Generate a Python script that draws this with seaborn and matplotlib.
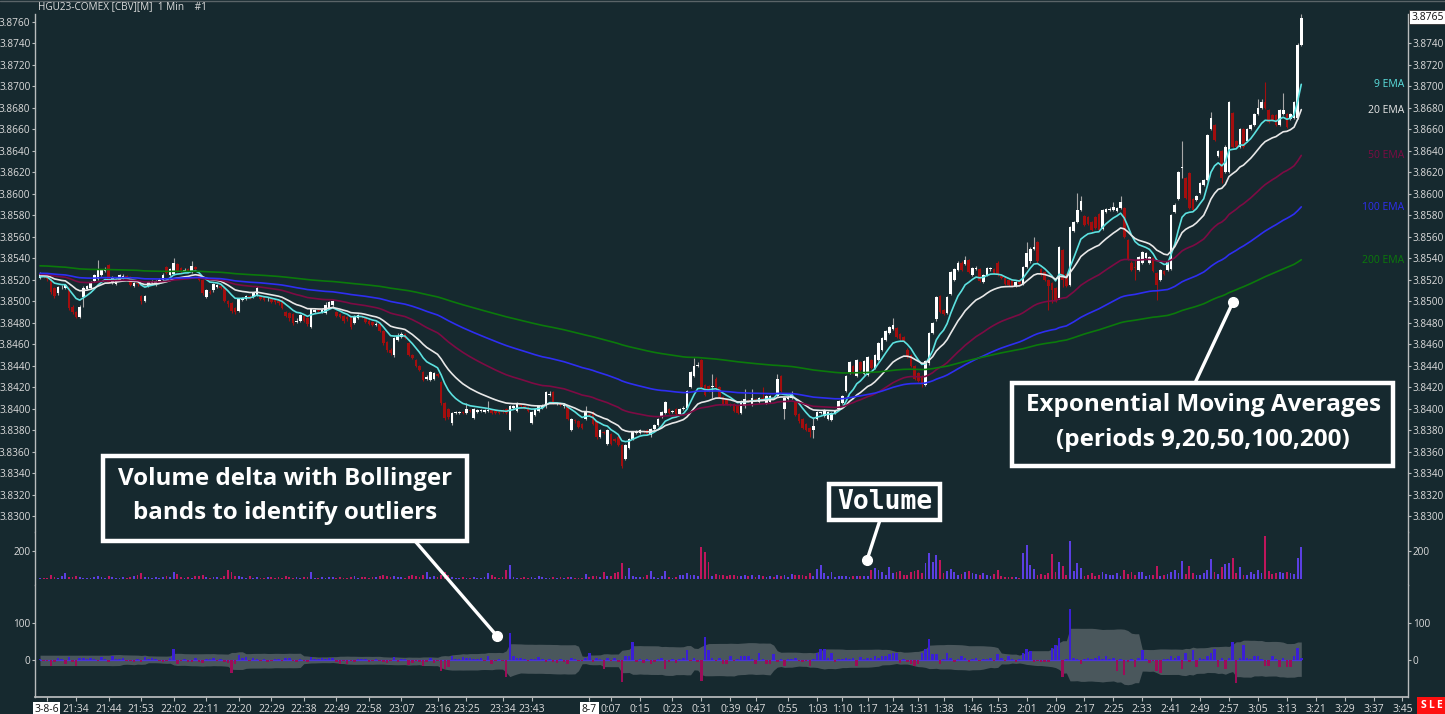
import numpy as np
import pandas as pd
import matplotlib
matplotlib.use("Agg")
import matplotlib.pyplot as plt
import seaborn as sns
from matplotlib.lines import Line2D
from matplotlib.patches import Rectangle
import matplotlib.transforms as mtrans

# ---------------- data (prices in units of 0.0001 above 3.8000) ----------------
opens = [
    522, 525, 524, 520, 512, 508, 513, 512, 512, 495,
    490, 485, 504, 511, 512, 519, 521, 524, 528, 534,
    518, 516, 520, 522, 523, 522, 514, 517, 505, 500,
    514, 517, 515, 518, 520, 532, 524, 525, 535, 531,
    528, 530, 527, 532, 525, 520, 504, 509, 510, 513,
    514, 512, 500, 498, 494, 491, 501, 502, 505, 504,
    506, 505, 504, 502, 502, 501, 500, 501, 490, 489,
    488, 481, 482, 486, 484, 476, 490, 492, 490, 489,
    494, 496, 490, 488, 486, 485, 485, 480, 484, 486,
    484, 482, 481, 478, 479, 472, 462, 455, 450, 464,
    467, 469, 461, 450, 445, 440, 434, 428, 427, 428,
    432, 425, 405, 400, 387, 396, 396, 397, 396, 399,
    391, 397, 398, 397, 398, 399, 398, 397, 399, 400,
    380, 401, 398, 403, 402, 401, 387, 394, 398, 401,
    402, 413, 415, 404, 405, 402, 402, 380, 389, 388,
    386, 390, 395, 397, 388, 374, 378, 367, 376, 372,
    374, 366, 353, 363, 372, 377, 377, 379, 380, 375,
    381, 385, 392, 396, 400, 397, 400, 395, 400, 401,
    420, 430, 440, 445, 422, 421, 420, 428, 420, 411,
    408, 404, 404, 402, 396, 402, 408, 403, 409, 406,
    410, 405, 406, 411, 412, 430, 400, 409, 410, 406,
    395, 390, 386, 382, 380, 390, 396, 393, 390, 389,
    396, 400, 405, 416, 433, 440, 430, 443, 432, 431,
    445, 438, 445, 455, 464, 470, 474, 475, 469, 467,
    455, 450, 440, 433, 430, 422, 442, 470, 483, 505,
    492, 489, 507, 520, 529, 536, 535, 538, 524, 530,
    530, 518, 524, 530, 530, 536, 523, 522, 520, 520,
    514, 520, 516, 532, 537, 549, 555, 530, 527, 520,
    517, 512, 503, 548, 525, 515, 565, 574, 585, 579,
    578, 574, 578, 581, 567, 583, 585, 585, 584, 587,
    587, 557, 536, 532, 529, 536, 540, 536, 540,
    526, 520, 528, 529, 530, 583, 595, 624, 615, 619, 595,
    594, 601, 608, 613, 660, 664, 635, 640, 620, 620,
    675, 649, 644, 660, 649, 660, 664, 674, 680, 685,
    678, 673, 673, 664, 674, 674, 670, 671, 671, 739,
]
closes = [
    525, 524, 521, 509, 505, 513, 513, 515, 494, 490,
    485, 495, 512, 514, 518, 524, 530, 529, 530, 518,
    522, 521, 524, 523, 522, 515, 517, 516, 500, 505,
    518, 518, 519, 520, 524, 526, 530, 536, 528, 527,
    529, 527, 533, 530, 520, 508, 510, 508, 516, 515,
    512, 500, 497, 491, 490, 502, 503, 505, 503, 508,
    512, 502, 501, 502, 499, 499, 498, 494, 486, 484,
    480, 482, 487, 482, 479, 493, 492, 491, 492, 496,
    499, 500, 486, 485, 482, 483, 476, 486, 487, 485,
    481, 479, 478, 479, 472, 461, 455, 452, 466, 468,
    469, 466, 450, 447, 440, 436, 427, 429, 434, 433,
    430, 405, 391, 392, 396, 396, 397, 396, 400, 398,
    400, 399, 399, 399, 398, 396, 396, 396, 397, 396,
    402, 402, 405, 402, 401, 398, 397, 400, 402, 402,
    415, 414, 405, 405, 403, 403, 390, 390, 388, 383,
    382, 397, 394, 386, 374, 380, 377, 380, 367, 370,
    366, 347, 366, 372, 378, 379, 380, 378, 376, 381,
    385, 390, 397, 406, 396, 398, 395, 400, 401, 416,
    434, 440, 441, 420, 413, 416, 421, 420, 411, 404,
    404, 403, 398, 396, 407, 409, 407, 410, 408, 410,
    409, 412, 412, 410, 428, 416, 410, 411, 414, 394,
    388, 382, 380, 378, 384, 397, 396, 399, 397, 396,
    398, 407, 412, 430, 443, 433, 445, 436, 444, 448,
    438, 450, 461, 466, 472, 476, 478, 467, 465, 463,
    448, 440, 428, 426, 424, 444, 470, 480, 504, 490,
    488, 504, 527, 530, 536, 529, 538, 527, 531, 531,
    519, 524, 531, 530, 526, 524, 522, 516, 515, 514,
    518, 516, 532, 545, 549, 550, 537, 524, 520, 514,
    510, 500, 550, 520, 514, 569, 574, 585, 593, 571,
    572, 566, 568, 566, 585, 586, 586, 588, 587, 592,
    560, 539, 529, 531, 541, 546, 545, 541, 528,
    515, 529, 525, 537, 580, 590, 620, 625, 596, 587, 585,
    598, 610, 613, 655, 671, 650, 640, 615, 644, 685,
    644, 644, 660, 644, 660, 664, 674, 680, 685, 680,
    667, 669, 664, 678, 678, 662, 674, 685, 739, 764,
]
highs = [
    527, 526, 525, 521, 513, 514, 515, 516, 513, 496,
    491, 496, 514, 515, 519, 525, 538, 530, 532, 535,
    523, 522, 525, 525, 524, 523, 518, 518, 506, 506,
    519, 520, 520, 522, 526, 533, 531, 540, 536, 532,
    531, 531, 537, 533, 526, 521, 511, 510, 517, 516,
    515, 513, 501, 499, 495, 503, 504, 506, 506, 509,
    514, 506, 505, 504, 503, 502, 501, 502, 491, 490,
    489, 484, 488, 487, 485, 494, 493, 493, 494, 499,
    500, 501, 491, 489, 487, 486, 486, 487, 488, 487,
    485, 483, 482, 481, 480, 473, 463, 456, 467, 470,
    471, 470, 462, 451, 446, 441, 435, 431, 435, 434,
    433, 426, 406, 401, 397, 398, 398, 398, 405, 400,
    401, 400, 400, 400, 407, 400, 399, 398, 400, 401,
    403, 403, 406, 404, 403, 402, 398, 401, 403, 404,
    416, 416, 416, 406, 406, 404, 403, 391, 390, 389,
    387, 402, 396, 398, 389, 381, 379, 381, 377, 373,
    375, 367, 367, 373, 379, 380, 381, 380, 381, 382,
    386, 391, 398, 407, 401, 399, 401, 401, 402, 417,
    435, 447, 443, 446, 423, 422, 432, 429, 421, 412,
    409, 405, 405, 403, 408, 418, 409, 418, 410, 411,
    420, 413, 413, 412, 432, 431, 411, 412, 416, 407,
    396, 391, 387, 383, 392, 398, 397, 400, 398, 397,
    399, 408, 413, 431, 444, 441, 446, 444, 445, 449,
    446, 451, 462, 467, 473, 477, 484, 476, 470, 468,
    456, 451, 441, 434, 431, 445, 471, 481, 505, 506,
    493, 505, 528, 531, 537, 537, 542, 539, 532, 533,
    531, 525, 532, 532, 531, 537, 524, 523, 521, 521,
    519, 521, 533, 555, 550, 560, 556, 531, 528, 521,
    518, 513, 551, 549, 526, 570, 575, 601, 598, 580,
    579, 575, 579, 582, 586, 587, 588, 592, 588, 598,
    588, 558, 537, 538, 542, 547, 546, 542, 541,
    527, 530, 529, 538, 581, 591, 621, 649, 616, 620, 596,
    599, 611, 614, 656, 676, 665, 641, 641, 645, 686,
    676, 650, 661, 661, 661, 665, 675, 688, 688, 704,
    679, 674, 674, 679, 694, 675, 675, 686, 740, 767,
]
lows = [
    521, 522, 519, 507, 503, 506, 511, 511, 492, 488,
    484, 484, 495, 510, 511, 518, 520, 523, 527, 517,
    516, 515, 519, 521, 521, 514, 513, 514, 497, 499,
    513, 516, 514, 517, 519, 525, 523, 524, 527, 526,
    527, 526, 526, 529, 519, 506, 503, 507, 509, 512,
    511, 499, 495, 489, 488, 490, 500, 501, 502, 503,
    505, 501, 500, 500, 498, 497, 496, 493, 485, 482,
    478, 480, 481, 481, 477, 475, 489, 490, 489, 488,
    493, 495, 485, 484, 480, 482, 474, 479, 483, 484,
    480, 478, 477, 477, 471, 459, 453, 450, 448, 463,
    466, 465, 449, 446, 439, 435, 426, 427, 426, 427,
    429, 403, 389, 390, 385, 395, 395, 395, 395, 397,
    390, 396, 397, 396, 397, 395, 395, 395, 396, 395,
    379, 400, 397, 401, 400, 397, 386, 393, 397, 400,
    401, 412, 404, 403, 402, 401, 389, 379, 387, 382,
    381, 389, 393, 385, 372, 373, 376, 366, 366, 369,
    365, 345, 352, 362, 371, 376, 376, 377, 375, 374,
    380, 384, 391, 395, 395, 396, 394, 394, 399, 400,
    419, 429, 439, 418, 412, 415, 410, 419, 410, 403,
    403, 402, 397, 395, 395, 401, 406, 402, 407, 405,
    408, 404, 405, 409, 411, 415, 390, 408, 409, 393,
    387, 381, 379, 374, 373, 389, 395, 392, 389, 388,
    395, 399, 404, 415, 432, 432, 429, 435, 431, 430,
    437, 437, 444, 454, 463, 469, 473, 466, 463, 462,
    447, 439, 427, 425, 420, 421, 441, 469, 482, 489,
    487, 488, 506, 519, 528, 528, 534, 526, 523, 529,
    518, 517, 523, 528, 525, 523, 521, 515, 514, 513,
    513, 515, 515, 531, 536, 548, 536, 523, 519, 492,
    498, 499, 502, 513, 513, 514, 564, 573, 584, 570,
    571, 565, 567, 565, 566, 582, 584, 584, 583, 586,
    559, 538, 528, 520, 528, 535, 539, 535, 527,
    501, 519, 524, 528, 529, 582, 594, 615, 595, 586, 584,
    593, 600, 607, 612, 659, 649, 634, 610, 619, 619,
    643, 643, 643, 643, 648, 659, 663, 673, 679, 679,
    666, 668, 663, 663, 673, 661, 669, 670, 670, 738,
]
volume = [
    6, 8, 5, 24, 10, 6, 18, 38, 14, 12,
    16, 12, 8, 6, 8, 10, 19, 14, 6, 20,
    10, 8, 6, 10, 6, 12, 16, 30, 40, 14,
    10, 8, 12, 8, 10, 16, 14, 50, 32, 12,
    8, 10, 6, 20, 16, 28, 14, 8, 12, 10,
    6, 18, 62, 48, 16, 20, 10, 6, 22, 8,
    10, 6, 8, 12, 14, 8, 10, 6, 16, 10,
    8, 12, 6, 10, 14, 48, 8, 6, 10, 8,
    10, 12, 8, 14, 6, 8, 10, 16, 6, 12,
    10, 8, 14, 12, 18, 24, 16, 10, 22, 14,
    10, 8, 20, 24, 16, 12, 26, 48, 14, 20,
    10, 30, 50, 24, 14, 6, 8, 10, 6, 8,
    10, 6, 8, 12, 38, 26, 12, 8, 10, 62,
    98, 10, 8, 6, 12, 8, 10, 6, 16, 10,
    8, 6, 10, 8, 12, 6, 14, 10, 8, 6,
    8, 33, 14, 20, 16, 12, 48, 22, 18, 40,
    48, 110, 20, 74, 20, 10, 14, 12, 30, 52,
    12, 8, 16, 52, 14, 8, 12, 30, 24, 43,
    30, 28, 20, 224, 193, 121, 20, 36, 24, 30,
    20, 26, 30, 16, 22, 28, 20, 24, 14, 30,
    18, 10, 16, 12, 30, 20, 24, 14, 33, 30,
    24, 30, 20, 43, 16, 71, 98, 40, 20, 48,
    14, 16, 20, 18, 14, 22, 16, 20, 18, 22,
    60, 74, 62, 50, 24, 81, 40, 48, 52, 30,
    26, 48, 54, 60, 40, 110, 186, 120, 171, 133,
    43, 52, 71, 50, 30, 36, 48, 52, 40, 36,
    30, 40, 30, 20, 36, 62, 20, 14, 10, 14,
    12, 8, 181, 240, 98, 67, 24, 36, 30, 43,
    176, 48, 121, 90, 30, 269, 52, 110, 74, 20,
    26, 38, 20, 28, 48, 34, 30, 24, 40, 20,
    60, 36, 50, 30, 48, 46, 20, 24, 30, 90,
    20, 24, 36, 50, 60, 40, 129, 36, 90, 40,
    30, 24, 40, 60, 138, 48, 36, 81, 105, 110,
    145, 40, 81, 30, 24, 50, 36, 60, 40, 305,
    57, 36, 44, 48, 40, 50, 44, 36, 148, 229,
]
delta = [
    2, -3, -2, -16, -6, 4, 3, -10, 8, -5,
    -16, 5, 6, 3, 4, 2, -3, 8, 2, -6,
    10, 2, 3, 5, -2, -4, -6, 3, -5, 8,
    2, 4, 3, -2, -5, -4, 6, 29, -10, -3,
    2, -5, -5, 5, -6, -8, 3, 2, 4, -3,
    2, -6, -8, -36, -10, 13, 6, 8, -3, 4,
    3, -4, 2, -5, -3, 2, 3, -2, 5, 4,
    -3, -5, 2, -4, -5, 8, 3, 2, 4, 3,
    6, 4, -6, -12, -4, -10, -3, -5, 3, 2,
    2, -5, -3, 2, -4, -6, -8, -4, 8, -5,
    3, 2, -14, -8, -4, -6, -16, -5, 4, -8,
    -3, -30, -25, -20, 12, 3, 2, 8, 4, 5,
    3, 2, 4, -3, 12, -10, -3, 2, -4, -45,
    72, 10, 4, 5, 2, -4, 3, 2, 8, 3,
    -5, 2, -5, -8, 3, -5, -10, 4, 2, -3,
    -4, 5, 20, -5, 5, 3, -25, 5, -3, 5,
    -6, -58, 10, 10, 49, -5, 3, -8, 2, -10,
    -5, 3, 4, -25, -5, 3, -8, 2, 4, 27,
    -3, 4, -5, -55, 62, 27, 5, -4, 5, -12,
    -12, 10, -3, 2, 10, 12, 12, 3, -10, 20,
    3, -10, -12, 15, -5, 3, -15, 2, 3, 5,
    -3, -5, -4, -15, 3, 20, 30, 30, 4, 20,
    -5, 3, 2, 5, 3, 4, -15, 8, 3, 5,
    4, 10, 6, 10, 10, 15, 18, 20, -8, 3,
    -6, -10, -15, -12, 20, 30, 55, 15, 15, -10,
    3, 18, 4, -5, 3, 10, 4, -5, 3, 5,
    -4, 3, 2, 5, -3, 15, 5, -2, 10, 3,
    -5, 2, 20, 30, 25, -5, -4, -5, -6, -5,
    33, 40, 60, -45, 3, 136, 5, 3, -10, 2,
    5, 3, 4, 12, 2, 12, 3, 4, -30, 3,
    -40, -6, 3, -20, 4, 28, 3, -8, -4, -30,
    -35, 3, 2, 10, 4, 10, -25, 20, -5, 28,
    -20, 4, 3, 10, 20, 30, -20, 5, -25, 4,
    47, -62, 5, 40, 4, 3, 10, 12, 3, -15,
    -15, 10, 3, -18, 4, -18, -18, 10, 33, 5,
]
tick_pos = [1.8, 10, 19, 28, 37, 46, 55, 64, 73, 82, 91, 100, 110, 118, 128, 136,
            152, 158, 166, 175, 183, 191, 198, 207, 215, 222, 229, 236, 243, 250,
            258, 265, 273, 281, 289, 297, 305, 313, 321, 329, 337, 345, 353, 361,
            369, 377]
tick_labels = ["3-8-6", "21:34", "21:44", "21:53", "22:02", "22:11", "22:20", "22:29",
               "22:38", "22:49", "22:58", "23:07", "23:16", "23:25", "23:34", "23:43",
               "8-7", "0:07", "0:15", "0:23", "0:31", "0:39", "0:47", "0:55", "1:03",
               "1:10", "1:17", "1:24", "1:31", "1:38", "1:46", "1:53", "2:01", "2:09",
               "2:17", "2:25", "2:33", "2:41", "2:49", "2:57", "3:05", "3:13", "3:21",
               "3:29", "3:37", "3:45"]
ema_periods = [9, 20, 50, 100, 200]
ema_seeds = [3.8522, 3.8524, 3.8525, 3.8526, 3.8533]
ema_names = ["9 EMA", "20 EMA", "50 EMA", "100 EMA", "200 EMA"]
last_price_label = "3.8765"

# ---------------- styling ----------------
W, H = 1445, 714
BG = "#16292f"
TXT = "#dcdcdc"
AX = "#b9bcbd"
UP, DN, WICK_UP = "#ffffff", "#a30e0e", "#a8a8a8"
EMA_COLORS = ["#5ce1e0", "#e8e8e8", "#7d0b44", "#2e2ef2", "#0b7a0b"]
VUP, VDN = "#5b3fe2", "#c0165c"
DUP, DDN = "#3a1fd6", "#9c0d58"
BAND = "#4a575c"

sns.set_theme(style="dark", rc={"axes.facecolor": BG, "figure.facecolor": BG})
plt.rcParams["font.family"] = ["Open Sans", "DejaVu Sans"]

fig = plt.figure(figsize=(W / 100, H / 100), dpi=100, facecolor=BG)


def fx(px):
    return px / W


def fy(py):
    return 1 - py / H


L, R = 35, 1408
ax_p = fig.add_axes([fx(L), fy(532), (R - L) / W, (532 - 14) / H])
ax_v = fig.add_axes([fx(L), fy(585), (R - L) / W, (585 - 532) / H], sharex=ax_p)
ax_d = fig.add_axes([fx(L), fy(697), (R - L) / W, (697 - 585) / H], sharex=ax_p)

n = len(closes)
x = np.arange(n)
o = 3.8 + np.array(opens) / 1e4
c = 3.8 + np.array(closes) / 1e4
h = 3.8 + np.array(highs) / 1e4
lo = 3.8 + np.array(lows) / 1e4
up = c >= o

# candles
ax_p.vlines(x[up], lo[up], h[up], color=WICK_UP, lw=0.8, zorder=2)
ax_p.vlines(x[~up], lo[~up], h[~up], color=DN, lw=0.8, zorder=2)
body_h = np.maximum(np.abs(c - o), 0.00005)
ax_p.bar(x, body_h, bottom=np.minimum(o, c), width=0.72,
         color=np.where(up, UP, DN), linewidth=0, zorder=3)

# EMAs
ema_last = []
for per, seed, col in zip(ema_periods, ema_seeds, EMA_COLORS):
    a = 2.0 / (per + 1)
    e = np.empty(n)
    prev = seed
    for i in range(n):
        prev = prev + a * (c[i] - prev)
        e[i] = prev
    ema_last.append(e[-1])
    sns.lineplot(x=x, y=e, ax=ax_p, color=col, lw=1.2, legend=False, zorder=4)

# volume
vol = np.array(volume)
ax_v.bar(x, vol, width=0.5, color=np.where(up, VUP, VDN), linewidth=0)

# delta with Bollinger bands (20, 2)
d = pd.Series(delta, dtype=float)
mid = d.rolling(20, min_periods=20).mean().bfill()
sd = d.rolling(20, min_periods=20).std(ddof=0).bfill()
ax_d.fill_between(x, mid + 2 * sd, mid - 2 * sd, color=BAND, lw=0, zorder=1)
ax_d.plot(x, np.zeros(n), color="#4b35d8", lw=0.9, zorder=2)
ax_d.bar(x, d.values, width=0.7, color=np.where(d.values >= 0, DUP, DDN),
         linewidth=0, zorder=3)

# limits
ax_p.set_xlim((L - 40) / 3.614, (R - 40) / 3.614)
ax_p.set_ylim(3.82851, 3.87674)
ax_v.set_ylim(-45, 333.6)
ax_d.set_ylim(-99.2, 201)

for ax in (ax_p, ax_v, ax_d):
    ax.set_facecolor(BG)
    ax.grid(False)
    for s in ("top", "bottom"):
        ax.spines[s].set_visible(False)
    for s in ("left", "right"):
        ax.spines[s].set_visible(True)
        ax.spines[s].set_color(AX)
        ax.spines[s].set_linewidth(1.0)
    ax.tick_params(axis="y", left=True, right=True, labelleft=True, labelright=True,
                   length=2.5, width=0.8, color=AX, labelcolor=TXT, labelsize=7.2, pad=0.8)
    ax.set_xlabel("")
    ax.set_ylabel("")

ax_d.spines["bottom"].set_visible(True)
ax_d.spines["bottom"].set_color(AX)

pt = np.arange(3.8300, 3.87601, 0.002)
ax_p.set_yticks(pt)
ax_p.set_yticklabels([f"{v:.4f}" for v in pt])
# the top right label is hidden behind the last-price box
ax_p.yaxis.get_major_ticks()[-1].label2.set_visible(False)
ax_v.set_yticks([200])
ax_v.set_yticklabels(["200"])
ax_d.set_yticks([0, 100])
ax_d.set_yticklabels(["0", "100"])

for ax in (ax_p, ax_v):
    ax.tick_params(axis="x", bottom=False, labelbottom=False)
ax_d.set_xticks(tick_pos)
ax_d.set_xticklabels(tick_labels)
ax_d.tick_params(axis="x", bottom=True, length=3, width=0.8, color=AX,
                 labelcolor=TXT, labelsize=7.5, pad=2)
for lbl in ax_d.get_xticklabels():
    if "-" in lbl.get_text():
        lbl.set_color("#111111")
        lbl.set_bbox(dict(facecolor="white", edgecolor="none", pad=1.2))

# EMA labels at the right
tr = mtrans.blended_transform_factory(ax_p.transAxes, ax_p.transData)
for name, col, val in zip(ema_names, EMA_COLORS, ema_last):
    ax_p.text(0.9975, val - 0.00005, name, transform=tr, ha="right", va="center",
              color=col, fontsize=7.5)

# last price box
fig.text(fx(1411), fy(17), last_price_label, ha="left", va="center", fontsize=7.5,
         color="#111111", zorder=10,
         bbox=dict(facecolor="white", edgecolor="#333333", pad=1.3, lw=0.6))

# title
fig.text(fx(38), fy(7), "HGU23-COMEX [CBV][M]  1 Min    #1", ha="left", va="center",
         fontsize=7.2, color=TXT)
fig.add_artist(Line2D([0, 1], [fy(0.5), fy(0.5)], transform=fig.transFigure,
                      color="#5a6468", lw=1))

# S L E box
fig.add_artist(Rectangle((fx(1417), fy(714)), (1445 - 1417) / W, 17 / H,
                         transform=fig.transFigure, facecolor="#ff1010", edgecolor="none"))
for lx, ch in zip((1423, 1431, 1439), ("S", "L", "E")):
    fig.text(fx(lx), fy(705.5), ch, ha="center", va="center", fontsize=7.5,
             color="white", fontweight="bold")


# annotations
def connector(p0, p1):
    fig.add_artist(Line2D([fx(p0[0]), fx(p1[0])], [fy(p0[1]), fy(p1[1])],
                          transform=fig.transFigure, color="white", lw=2.4,
                          solid_capstyle="round", zorder=20))
    fig.add_artist(Line2D([fx(p1[0])], [fy(p1[1])], transform=fig.transFigure,
                          marker="o", markersize=7, color="white", zorder=20))


def box(x0, y0, x1, y1):
    fig.add_artist(Rectangle((fx(x0), fy(y1)), (x1 - x0) / W, (y1 - y0) / H,
                             transform=fig.transFigure, facecolor=BG,
                             edgecolor="white", lw=3.2, zorder=21))


connector((415, 541), (497, 636))
connector((880, 520), (867, 560))
connector((1195, 383), (1233, 302))

box(103, 456, 467, 541)
fig.text(fx(285), fy(479), "Volume delta with Bollinger", ha="center", va="center",
         fontsize=17.4, fontweight="bold", color="white", zorder=22)
fig.text(fx(285), fy(513), "bands to identify outliers", ha="center", va="center",
         fontsize=17.4, fontweight="bold", color="white", zorder=22)

box(829, 484, 940, 520)
fig.text(fx(884.5), fy(502), "Volume", ha="center", va="center", fontsize=19,
         fontweight="bold", color="white", family="DejaVu Sans Mono", zorder=22)

box(1012, 383, 1393, 466)
fig.text(fx(1203), fy(405), "Exponential Moving Averages", ha="center", va="center",
         fontsize=17.5, fontweight="bold", color="white", zorder=22)
fig.text(fx(1203), fy(440), "(periods 9,20,50,100,200)", ha="center", va="center",
         fontsize=17.5, fontweight="bold", color="white", zorder=22)

fig.savefig("out.png", dpi=100, facecolor=BG)
